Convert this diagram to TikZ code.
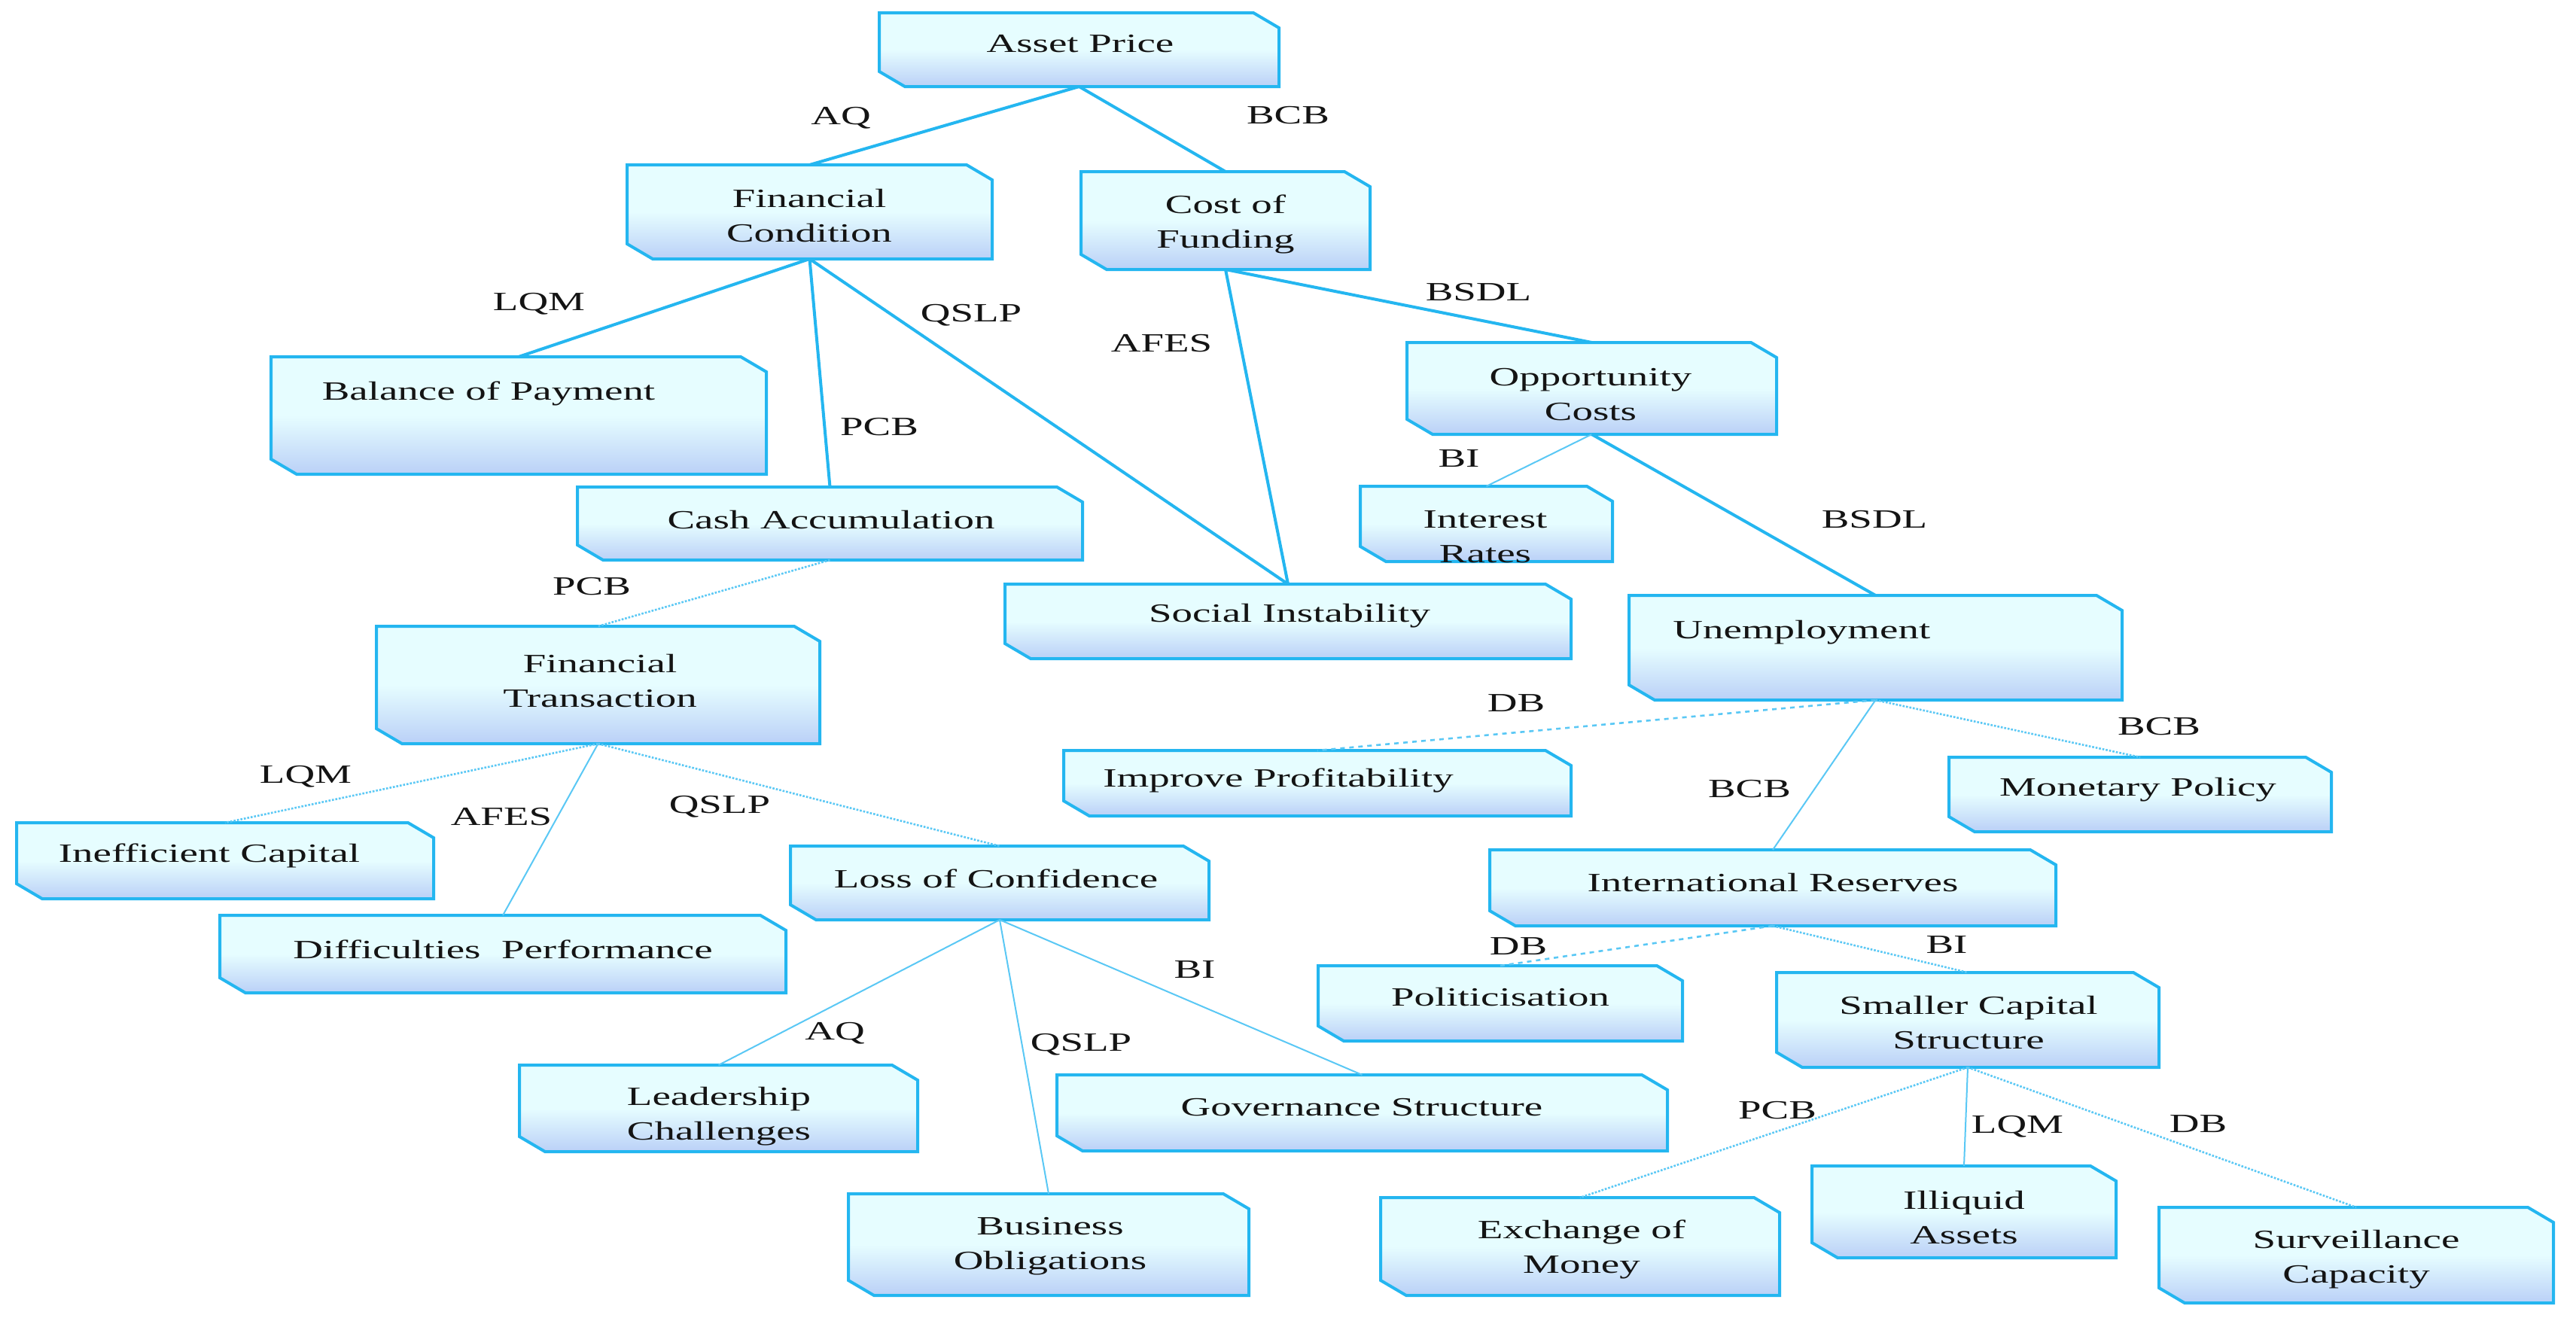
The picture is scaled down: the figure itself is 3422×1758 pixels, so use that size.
\documentclass[tikz,border=0pt]{standalone}
\usepackage{fontspec}
\setmainfont[FakeStretch=1.57]{Liberation Serif}
\definecolor{boxline}{RGB}{36,182,240}
\definecolor{boxtop}{RGB}{230,253,255}
\definecolor{boxbot}{RGB}{186,208,247}
\definecolor{linkc}{RGB}{36,182,240}
\definecolor{linkl}{RGB}{90,200,245}
\definecolor{textc}{RGB}{20,20,20}
\tikzset{
  frame/.style={inner sep=0pt, outer sep=0pt, draw=none},
  boxshape/.style={top color=boxtop, bottom color=boxbot, middle color=boxtop, draw=boxline, line width=2pt, line join=miter},
  txt/.style={font=\fontsize{17.5}{23}\selectfont, text=textc, align=center, inner sep=0pt},
  lab/.style={font=\fontsize{17.5}{23}\selectfont, text=textc, inner sep=0pt},
  thickln/.style={draw=linkc, line width=2pt},
  thinln/.style={draw=linkl, line width=1pt},
  dotln/.style={draw=linkl, line width=1.3pt, densely dotted},
  dashln/.style={draw=linkl, line width=1.3pt, dashed}
}
\newcommand{\cbox}[5]{%
  \node[frame, minimum width={(#4-#2)*0.5pt}, minimum height={(#5-#3)*0.5pt}] (#1) at ({(#2+#4)/2},{(#3+#5)/2}) {};
  \shadedraw[boxshape] (#1.north west) -- ([xshift=-17pt]#1.north east) -- ([yshift=-10pt]#1.north east) -- (#1.south east) -- ([xshift=17pt]#1.south west) -- ([yshift=10pt]#1.south west) -- cycle;
}
\begin{document}
\begin{tikzpicture}[x=0.5pt, y=-0.5pt]
\useasboundingbox[fill=white] (0,0) rectangle (3422,1758);
% boxes
\cbox{ap}{1168}{17}{1699}{115}
\cbox{fc}{833}{219}{1318}{344}
\cbox{cof}{1436}{228}{1820}{358}
\cbox{bop}{360}{474}{1018}{630}
\cbox{cash}{767}{647}{1438}{744}
\cbox{soc}{1335}{776}{2087}{875}
\cbox{ft}{500}{832}{1089}{988}
\cbox{opp}{1869}{455}{2360}{577}
\cbox{ir}{1807}{646}{2142}{746}
\cbox{unemp}{2164}{791}{2819}{930}
\cbox{imp}{1413}{997}{2087}{1084}
\cbox{mon}{2589}{1006}{3097}{1105}
\cbox{ic}{22}{1093}{576}{1194}
\cbox{dp}{292}{1216}{1044}{1319}
\cbox{loc}{1050}{1124}{1606}{1222}
\cbox{intres}{1979}{1129}{2731}{1230}
\cbox{pol}{1751}{1283}{2235}{1383}
\cbox{scs}{2360}{1292}{2868}{1418}
\cbox{lc}{690}{1415}{1219}{1530}
\cbox{gs}{1404}{1428}{2215}{1529}
\cbox{bo}{1127}{1586}{1659}{1721}
\cbox{em}{1834}{1591}{2364}{1721}
\cbox{ia}{2407}{1549}{2811}{1671}
\cbox{sc}{2868}{1604}{3392}{1731}
% texts
\node[txt] (ap-t) at (1435,58) {Asset Price};
\node[txt] (fc-t) at (1075,287) {Financial\\Condition};
\node[txt] (cof-t) at (1628,298) {Cost of\\Funding};
\node[txt] (bop-t) at (649,523) {Balance of Payment};
\node[txt] (cash-t) at (1104,691) {Cash Accumulation};
\node[txt] (soc-t) at (1713,818) {Social Instability};
\node[txt] (ft-t) at (797,905) {Financial\\Transaction};
\node[txt] (opp-t) at (2113,524) {Opportunity\\Costs};
\node[txt] (ir-t) at (1973,713) {Interest\\Rates};
\node[txt, anchor=west] (unemp-t) at (2222,840) {Unemployment};
\node[txt] (imp-t) at (1698,1037) {Improve Profitability};
\node[txt] (mon-t) at (2840,1049) {Monetary Policy};
\node[txt] (ic-t) at (278,1137) {Inefficient Capital};
\node[txt] (dp-t) at (668,1261) {Difficulties\ \ Performance};
\node[txt] (loc-t) at (1323,1167) {Loss of Confidence};
\node[txt] (intres-t) at (2355,1173) {International Reserves};
\node[txt] (pol-t) at (1993,1325) {Politicisation};
\node[txt] (scs-t) at (2615,1359) {Smaller Capital\\Structure};
\node[txt] (lc-t) at (955,1483) {Leadership\\Challenges};
\node[txt] (gs-t) at (1809,1471) {Governance Structure};
\node[txt] (bo-t) at (1395,1656) {Business\\Obligations};
\node[txt] (em-t) at (2101,1660) {Exchange of\\Money};
\node[txt] (ia-t) at (2609,1618) {Illiquid\\Assets};
\node[txt] (sc-t) at (3130,1673) {Surveillance\\Capacity};
% connectors
\draw[thickln] (ap.south) -- (fc.north);
\draw[thickln] (ap.south) -- (cof.north);
\draw[thickln] (fc.south) -- (bop.north);
\draw[thickln] (fc.south) -- (cash.north);
\draw[thickln] (fc.south) -- (soc.north);
\draw[thickln] (cof.south) -- (soc.north);
\draw[thickln] (cof.south) -- (opp.north);
\draw[thinln] (opp.south) -- (ir.north);
\draw[thickln] (opp.south) -- (unemp.north);
\draw[dotln] (cash.south) -- (ft.north);
\draw[dotln] (ft.south) -- (ic.north);
\draw[thinln] (ft.south) -- (dp.north);
\draw[dotln] (ft.south) -- (loc.north);
\draw[thinln] (loc.south) -- (lc.north);
\draw[thinln] (loc.south) -- (bo.north);
\draw[thinln] (loc.south) -- (gs.north);
\draw[dashln] (unemp.south) -- (imp.north);
\draw[thinln] (unemp.south) -- (intres.north);
\draw[dotln] (unemp.south) -- (mon.north);
\draw[dashln] (intres.south) -- (pol.north);
\draw[dotln] (intres.south) -- (scs.north);
\draw[dotln] (scs.south) -- (em.north);
\draw[thinln] (scs.south) -- (ia.north);
\draw[dotln] (scs.south) -- (sc.north);
% labels
\node[lab] (l1) at (1117,157) {AQ};
\node[lab] (l2) at (1711,153) {BCB};
\node[lab] (l3) at (716,404) {LQM};
\node[lab] (l4) at (1290,419) {QSLP};
\node[lab] (l5) at (1543,456) {AFES};
\node[lab] (l6) at (1168,567) {PCB};
\node[lab] (l7) at (1964,388) {BSDL};
\node[lab] (l8) at (1938,609) {BI};
\node[lab] (l9) at (2490,690) {BSDL};
\node[lab] (l10) at (786,779) {PCB};
\node[lab] (l11) at (2014,934) {DB};
\node[lab] (l12) at (2868,965) {BCB};
\node[lab] (l13) at (2324,1048) {BCB};
\node[lab] (l14) at (406,1032) {LQM};
\node[lab] (l15) at (666,1085) {AFES};
\node[lab] (l16) at (956,1072) {QSLP};
\node[lab] (l17) at (2017,1257) {DB};
\node[lab] (l18) at (2586,1255) {BI};
\node[lab] (l19) at (1587,1288) {BI};
\node[lab] (l20) at (1109,1373) {AQ};
\node[lab] (l21) at (1436,1388) {QSLP};
\node[lab] (l22) at (2361,1475) {PCB};
\node[lab] (l23) at (2680,1497) {LQM};
\node[lab] (l24) at (2920,1493) {DB};
\end{tikzpicture}
\end{document}
